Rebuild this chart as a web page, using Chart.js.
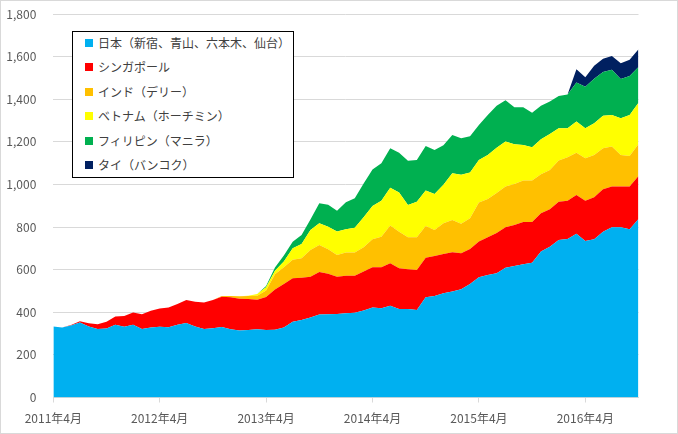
<!DOCTYPE html>
<html>
<head>
<meta charset="utf-8">
<script src="https://cdn.jsdelivr.net/npm/chart.js@4"></script>
<style>
  body { margin: 0; background: #fff; }
  #wrap { position: relative; width: 678px; height: 434px; font-family: "Noto Sans CJK JP", sans-serif; }
  #frame { position: absolute; left: 0; top: 0; width: 678px; height: 434px; box-sizing: border-box; border: 1px solid #d9d9d9; pointer-events: none; }
  #legend { position: absolute; left: 72px; top: 31px; width: 222px; height: 147px; box-sizing: border-box; border: 1px solid #000; background: #fff; }
  .item { position: absolute; left: 11px; height: 16px; line-height: 16px; font-size: 12px; color: #404040; white-space: nowrap; }
  .item span.sw { position: absolute; left: 1px; top: 4px; width: 8px; height: 8px; }
  .item span.tx { position: absolute; left: 14px; top: 0; }
</style>
</head>
<body>
<div id="wrap">
  <canvas id="areaChart" width="678" height="434"></canvas>
  <div id="legend"></div>
  <div id="frame"></div>
</div>
<script>
// months, 2011年4月 .. 2016年10月
const months = [
  '2011年4月','2011年5月','2011年6月','2011年7月','2011年8月','2011年9月','2011年10月','2011年11月','2011年12月',
  '2012年1月','2012年2月','2012年3月','2012年4月','2012年5月','2012年6月','2012年7月','2012年8月','2012年9月','2012年10月','2012年11月','2012年12月',
  '2013年1月','2013年2月','2013年3月','2013年4月','2013年5月','2013年6月','2013年7月','2013年8月','2013年9月','2013年10月','2013年11月','2013年12月',
  '2014年1月','2014年2月','2014年3月','2014年4月','2014年5月','2014年6月','2014年7月','2014年8月','2014年9月','2014年10月','2014年11月','2014年12月',
  '2015年1月','2015年2月','2015年3月','2015年4月','2015年5月','2015年6月','2015年7月','2015年8月','2015年9月','2015年10月','2015年11月','2015年12月',
  '2016年1月','2016年2月','2016年3月','2016年4月','2016年5月','2016年6月','2016年7月','2016年8月','2016年9月','2016年10月'
];

const seriesNames = ['日本（新宿、青山、六本木、仙台）', 'シンガポール', 'インド（デリー）', 'ベトナム（ホーチミン）', 'フィリピン（マニラ）', 'タイ（バンコク）'];
const seriesColors = ['#00B0F0', '#FF0000', '#FFC000', '#FFFF00', '#00B050', '#002060'];

const japan = [
  333,328,338,352,333,321,324,341,332,341,322,328,
  332,330,341,350,333,322,325,331,320,314,317,320,
  317,318,329,356,364,375,389,391,392,395,398,408,
  422,419,431,415,415,411,470,476,489,497,508,533,
  564,575,583,609,617,625,633,685,708,739,744,768,
  735,743,778,799,799,790,838
];
const singapore = [
  0,0,2,6,16,23,32,39,51,58,69,79,
  86,92,98,108,116,124,133,142,150,150,145,139,
  155,189,204,204,198,192,200,190,175,176,174,183,
  189,192,199,192,187,188,186,188,185,185,169,164,
  168,177,189,190,193,199,191,180,175,180,180,183,
  189,197,199,191,191,200,202
];
const india = [
  0,0,0,0,0,0,0,0,0,0,0,0,
  0,0,0,0,0,0,0,3,6,11,14,18,
  30,71,78,86,92,125,127,115,102,110,108,114,
  132,144,177,171,150,153,149,122,144,151,138,144,
  183,180,188,191,192,194,194,183,185,193,204,198,
  199,198,193,188,148,144,150
];
const vietnam = [
  0,0,0,0,0,0,0,0,0,0,0,0,
  0,0,0,0,0,0,0,0,0,0,2,9,
  15,17,27,54,67,94,102,106,110,109,117,141,
  156,169,178,184,152,167,166,169,180,220,230,215,
  200,206,212,211,187,167,157,164,169,152,136,146,
  141,149,152,148,173,192,194
];
const philippines = [
  0,0,0,0,0,0,0,0,0,0,0,0,
  0,0,0,0,0,0,0,0,0,0,0,0,
  6,15,29,31,42,49,94,103,98,127,138,159,
  171,175,185,187,207,196,210,207,186,179,172,170,
  164,188,197,194,173,177,161,157,152,151,158,183,
  195,209,206,212,184,183,167
];
const thailand = [
  0,0,0,0,0,0,0,0,0,0,0,0,
  0,0,0,0,0,0,0,0,0,0,0,0,
  0,0,0,0,0,0,0,0,0,0,0,0,
  0,0,0,0,0,0,0,0,0,0,0,0,
  0,0,0,0,0,0,0,0,0,0,0,63,
  44,61,62,65,74,76,84
];

const yMax = 1800;
const yStep = 200;
const tickEvery = 12;

const allSeries = [japan, singapore, india, vietnam, philippines, thailand];
const gray = '#595959';
const axisFont = { family: '"Noto Sans CJK JP", sans-serif', size: 12 };

const chart = new Chart(document.getElementById('areaChart').getContext('2d'), {
    type: 'line',
    data: {
        labels: months,
        datasets: allSeries.map((vals, i) => ({
            label: seriesNames[i],
            data: vals,
            backgroundColor: seriesColors[i],
            borderColor: seriesColors[i],
            borderWidth: 0,
            pointRadius: 0,
            tension: 0,
            fill: i === 0 ? 'origin' : '-1'
        }))
    },
    options: {
        responsive: false,
        animation: false,
        layout: { padding: { top: 14, right: 39.5, left: 0, bottom: 0 } },
        plugins: { legend: { display: false }, tooltip: { enabled: false } },
        scales: {
            x: {
                offset: false,
                grid: { drawOnChartArea: false, drawTicks: true, tickLength: 5, color: '#d9d9d9' },
                border: { color: '#d9d9d9' },
                ticks: {
                    autoSkip: false,
                    maxRotation: 0,
                    padding: 9,
                    color: gray,
                    font: axisFont,
                    callback: (v, idx) => idx % tickEvery === 0 ? months[idx] : null
                },
                afterFit: scale => { scale.height = 36.5; }
            },
            y: {
                stacked: true,
                min: 0,
                max: yMax,
                grid: { color: '#d9d9d9', drawTicks: false },
                border: { display: false },
                ticks: {
                    stepSize: yStep,
                    padding: 17,
                    color: gray,
                    font: axisFont,
                    callback: v => v.toLocaleString('en-US')
                },
                afterFit: scale => {
                    scale.width = 53.3;
                    // tick padding should not push the plot down
                    scale.paddingTop = 0;
                    scale.paddingBottom = 0;
                }
            }
        }
    }
});

// legend box inside the plot, like the original
const legendBox = document.getElementById('legend');
chart.data.datasets.forEach((ds, k) => {
    const row = document.createElement('div');
    row.className = 'item';
    row.style.top = (3 + k * 24.45) + 'px';
    row.innerHTML = '<span class="sw" style="background:' + ds.backgroundColor + '"></span><span class="tx">' + ds.label + '</span>';
    legendBox.appendChild(row);
});
</script>
</body>
</html>
